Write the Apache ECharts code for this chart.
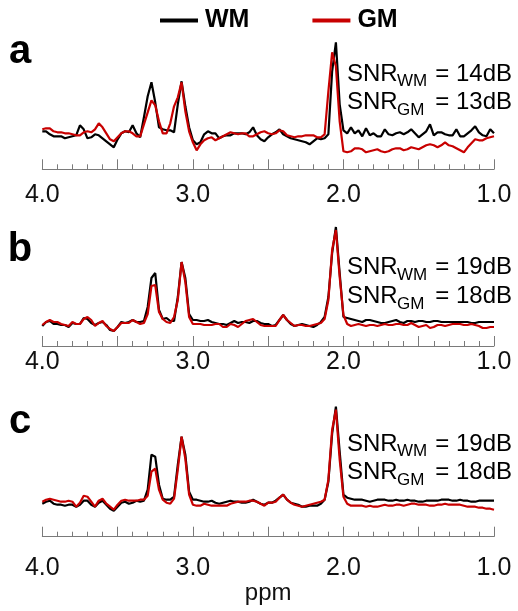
<!DOCTYPE html>
<html>
<head>
<meta charset="utf-8">
<script src="https://cdn.jsdelivr.net/npm/echarts@6/dist/echarts.min.js"></script>
<style>
html,body{margin:0;padding:0;background:#fff;}
#chart{width:518px;height:611px;}
</style>
</head>
<body>
<div id="chart"></div>
<script>
// chemical shift sample positions (ppm)
const ppm = [
4,3.975,3.95,3.925,3.9,3.875,3.85,3.825,3.8,3.775,
3.75,3.725,3.7,3.675,3.65,3.625,3.6,3.575,3.55,3.525,
3.5,3.475,3.45,3.425,3.4,3.375,3.35,3.325,3.3,3.275,
3.25,3.225,3.2,3.175,3.15,3.125,3.1,3.075,3.05,3.025,
3,2.975,2.95,2.925,2.9,2.875,2.85,2.825,2.8,2.775,
2.75,2.725,2.7,2.675,2.65,2.625,2.6,2.575,2.55,2.525,
2.5,2.475,2.45,2.425,2.4,2.375,2.35,2.325,2.3,2.275,
2.25,2.225,2.2,2.175,2.15,2.125,2.1,2.075,2.05,2.025,
2,1.975,1.95,1.925,1.9,1.875,1.85,1.825,1.8,1.775,
1.75,1.725,1.7,1.675,1.65,1.625,1.6,1.575,1.55,1.525,
1.5,1.475,1.45,1.425,1.4,1.375,1.35,1.325,1.3,1.275,
1.25,1.225,1.2,1.175,1.15,1.125,1.1,1.075,1.05,1.025,
1];

// panel a
const wmA = [
38,38,35,33,33,33,31,32,33,34,
44,40,31,32,35,34,31,28,25,22,
30,36,38,37,44,36,32,52,73,87,
67,42,40,39,39,37,65,88,63,42,
29,25,27,35,38,36,36,31,33,34,
34,36,36,36,35,37,42,34,30,28,
32,35,37,40,35,33,31,30,29,28,
27,25,28,31,30,31,35,98,127,65,
39,36,42,36,39,33,41,34,36,33,
33,40,35,34,36,37,35,37,40,36,
32,35,38,45,34,37,37,35,34,34,
40,33,33,36,39,43,37,34,33,40,36];
const gmA = [
40,41,41,38,37,37,36,36,35,34,
34,37,38,37,40,46,42,36,30,28,
32,36,38,38,36,33,33,45,57,69,
64,48,36,36,46,63,72,87,58,38,
27,19,25,29,31,32,29,31,33,35,
37,36,35,36,36,33,33,35,37,38,
36,35,36,39,38,34,33,32,33,33,
34,34,34,32,32,35,78,117,103,48,
18,17,18,21,21,20,17,18,19,20,
18,17,18,20,21,21,19,20,22,21,
20,22,24,25,24,22,24,27,24,23,
21,19,17,22,26,30,29,29,31,32,33];

// panel b
const wmB = [
20,24,25,22,22,21,21,19,23,22,
22,28,27,23,21,23,24,21,16,15,
19,24,23,24,26,24,24,25,39,68,
73,36,27,28,25,25,49,84,68,32,
26,26,25,25,26,24,23,22,22,21,
23,25,23,24,24,23,25,25,23,22,
22,20,21,26,31,26,22,20,21,22,
21,20,19,21,24,29,49,93,119,73,
29,28,27,26,25,24,26,26,25,24,
23,23,24,25,26,24,23,25,25,24,
25,25,24,24,25,25,24,24,24,24,
24,24,24,24,23,23,24,24,24,24,24];
const gmB = [
21,24,26,24,24,22,21,20,24,22,
22,27,29,26,20,23,25,20,17,15,
19,23,23,23,26,24,22,23,32,60,
61,34,27,24,23,29,46,84,64,29,
22,22,22,21,21,21,22,22,19,19,
22,21,19,22,25,26,27,24,21,20,
20,20,20,26,31,26,23,20,21,21,
20,20,21,22,23,27,46,96,116,69,
31,22,20,21,22,21,20,21,21,20,
21,22,21,21,22,22,21,21,23,21,
19,20,21,18,19,21,21,20,21,22,
22,22,21,21,22,21,20,18,18,19,19];

// panel c
const wmC = [
33,35,36,33,32,32,31,32,32,30,
32,36,36,32,30,34,36,32,28,26,
30,34,35,33,34,36,35,36,47,82,
80,52,38,37,37,40,72,100,82,45,
37,37,36,35,35,36,34,33,34,35,
36,35,35,34,34,35,37,35,33,32,
34,34,36,39,42,37,34,33,32,30,
30,31,31,31,33,37,55,103,130,85,
42,39,38,37,37,37,36,35,36,37,
37,37,36,36,37,36,36,37,36,36,
35,35,36,36,36,36,37,37,37,36,
36,37,36,36,35,35,36,36,36,36,36];
const gmC = [
35,37,38,37,36,35,35,36,35,30,
34,41,40,35,30,36,38,33,30,27,
32,36,37,36,36,36,37,37,41,65,
68,47,37,34,33,38,67,100,78,42,
32,31,31,33,32,31,31,31,31,31,
33,34,35,35,35,36,36,35,33,31,
34,34,35,39,42,37,34,32,31,30,
31,32,33,34,35,37,57,107,127,77,
40,33,31,31,31,31,30,31,30,30,
31,32,31,31,32,32,31,32,33,33,
32,32,32,31,31,32,32,33,32,32,
32,32,31,30,30,30,29,29,28,28,27];

const panelLabels = ['a','b','c'];
const snrWM = ['14dB','19dB','19dB'];
const snrGM = ['13dB','18dB','18dB'];
const legendNames = ['WM','GM'];
const tickLabels = [1.0, 2.0, 3.0, 4.0];

const FONT = '"Liberation Sans", Arial, Helvetica, sans-serif';
const BLACK = '#000000';
const RED = '#c80000';

const panels = [
  {wm: wmA, gm: gmA, top: 29.3, labelMargin: 13, label: 52, snr: [74, 102.5]},
  {wm: wmB, gm: gmB, top: 206,  labelMargin: 4,  label: 250, snr: [267.5, 296.5]},
  {wm: wmC, gm: gmC, top: 396.7, labelMargin: 19, label: 422, snr: [444, 472.5]}
];

const grids = [], xAxes = [], yAxes = [], series = [], graphics = [];
panels.forEach((p, k) => {
  grids.push({left: 42.3, width: 451.7, top: p.top, height: 140});
  const axisColor = '#7a7a7a';
  xAxes.push({
    type: 'value', gridIndex: k, min: 1, max: 4, interval: 0.5, inverse: true,
    axisLine: {onZero: false, lineStyle: {color: axisColor, width: 1}},
    axisTick: {inside: true, length: 10, lineStyle: {color: axisColor, width: 1}},
    minorTick: {show: true, splitNumber: 5, length: 5, lineStyle: {color: axisColor, width: 1}},
    splitLine: {show: false}, minorSplitLine: {show: false},
    axisLabel: {
      margin: p.labelMargin, fontSize: 25, color: '#111', fontFamily: FONT,
      showMinLabel: true, showMaxLabel: true,
      formatter: v => tickLabels.some(t => Math.abs(t - v) < 1e-6) ? v.toFixed(1) : ''
    },
    name: k === 2 ? 'ppm' : '', nameLocation: 'middle', nameGap: 41,
    nameTextStyle: {fontSize: 24, color: '#111', fontFamily: FONT}
  });
  yAxes.push({type: 'value', gridIndex: k, min: 0, max: 140, show: false});
  series.push({
    name: 'WM', type: 'line', xAxisIndex: k, yAxisIndex: k, showSymbol: false, silent: true,
    data: ppm.map((x, i) => [x, p.wm[i]]),
    lineStyle: {color: BLACK, width: 2.2}, itemStyle: {color: BLACK}, z: 2
  });
  series.push({
    name: 'GM', type: 'line', xAxisIndex: k, yAxisIndex: k, showSymbol: false, silent: true,
    data: ppm.map((x, i) => [x, p.gm[i]]),
    lineStyle: {color: RED, width: 2.2}, itemStyle: {color: RED}, z: 3
  });
  graphics.push({type: 'text', x: 20, y: p.label, style: {
    text: panelLabels[k], fontSize: 40, fontWeight: 'bold', fontFamily: FONT, fill: '#000',
    align: 'center', verticalAlign: 'middle'}});
  const rows = [['WM', snrWM[k]], ['GM', snrGM[k]]];
  rows.forEach((r, j) => {
    const cy = p.snr[j];
    graphics.push({type: 'text', x: 347, y: cy, style: {text: 'SNR', fontSize: 24, fontFamily: FONT,
      fill: '#000', align: 'left', verticalAlign: 'middle'}});
    graphics.push({type: 'text', x: 397, y: cy + 7.5, style: {text: r[0], fontSize: 17, fontFamily: FONT,
      fill: '#000', align: 'left', verticalAlign: 'middle'}});
    graphics.push({type: 'text', x: 512, y: cy, style: {text: '= ' + r[1], fontSize: 24, fontFamily: FONT,
      fill: '#000', align: 'right', verticalAlign: 'middle'}});
  });
});

const chart = echarts.init(document.getElementById('chart'), null, {renderer: 'canvas'});
chart.setOption({
  animation: false,
  backgroundColor: '#fff',
  textStyle: {fontFamily: FONT},
  legend: {
    data: legendNames, left: 155, top: 3, icon: 'rect', itemWidth: 38, itemHeight: 4, itemGap: 63,
    textStyle: {fontSize: 25, fontWeight: 'bold', color: '#000', fontFamily: FONT, padding: [0, 0, 0, 2]}
  },
  grid: grids, xAxis: xAxes, yAxis: yAxes, series: series, graphic: graphics
});
</script>
</body>
</html>
